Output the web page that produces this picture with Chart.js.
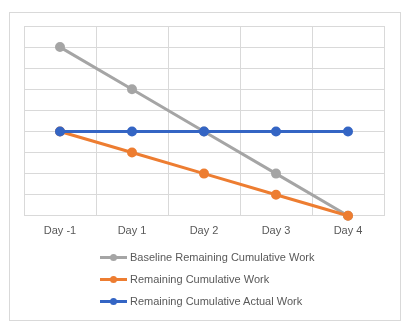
<!DOCTYPE html>
<html>
<head>
<meta charset="utf-8">
<script src="https://cdn.jsdelivr.net/npm/chart.js@4"></script>
<style>
  body { margin: 0; background: #fff; }
  #wrap { position: relative; width: 408px; height: 328px; }
  #frame { position: absolute; left: 9px; top: 12px; width: 390px; height: 307px; border: 1px solid #d9d9d9; }
  #legend { position: absolute; left: 100px; top: 248px; font: 11px "Liberation Sans", Arial, sans-serif; color: #595959; }
  .item { position: relative; height: 22px; line-height: 18px; padding-left: 30px; white-space: nowrap; }
  .item .ln { position: absolute; left: 0; top: 8px; width: 27px; height: 3px; }
  .item .dot { position: absolute; left: 10px; top: 6px; width: 7px; height: 7px; border-radius: 50%; }
</style>
</head>
<body>
<div id="wrap">
  <div id="frame"></div>
  <canvas id="burnChart" width="408" height="328"></canvas>
  <div id="legend"></div>
</div>
<script>
const days = ["Day -1", "Day 1", "Day 2", "Day 3", "Day 4"];
const baselineWork = [8, 6, 4, 2, 0];
const remainingWork = [4, 3, 2, 1, 0];
const actualWork = [4, 4, 4, 4, 4];
const yTicks = [0, 9, 1]; // min, max, step

const seriesNames = ["Baseline Remaining Cumulative Work", "Remaining Cumulative Work", "Remaining Cumulative Actual Work"];
const seriesColors = ["#a5a5a5", "#ed7d31", "#3465c4"];

function makeSet(i, data) {
    return {
        label: seriesNames[i],
        data: data,
        borderColor: seriesColors[i],
        backgroundColor: seriesColors[i],
        borderWidth: 3,
        pointRadius: 3.5,
        pointHoverRadius: 3.5,
        tension: 0,
        clip: false,
        order: 3 - i // later series on top
    };
}

const ctx = document.getElementById("burnChart").getContext("2d");
const burnChart = new Chart(ctx, {
    type: "line",
    data: {
        labels: days,
        datasets: [
            makeSet(0, baselineWork),
            makeSet(1, remainingWork),
            makeSet(2, actualWork)
        ]
    },
    options: {
        responsive: false,
        animation: false,
        layout: { padding: { left: 24, right: 24, top: 26, bottom: 81 } },
        plugins: { legend: { display: false }, tooltip: { enabled: false } },
        scales: {
            x: {
                offset: true,
                grid: { color: "#d9d9d9", offset: true, drawTicks: false },
                border: { display: false },
                ticks: { color: "#595959", font: { family: "Liberation Sans", size: 11 }, padding: 9 }
            },
            y: {
                min: yTicks[0],
                max: yTicks[1],
                grid: { color: "#d9d9d9", drawTicks: false },
                border: { display: false },
                ticks: { stepSize: yTicks[2], display: false }
            }
        }
    }
});

// legend drawn as html, one row per series
const legend = document.getElementById("legend");
burnChart.data.datasets.forEach(function (ds) {
    const row = document.createElement("div");
    row.className = "item";
    row.innerHTML = '<span class="ln" style="background:' + ds.borderColor + '"></span>' +
        '<span class="dot" style="background:' + ds.borderColor + '"></span>' + ds.label;
    legend.appendChild(row);
});
</script>
</body>
</html>
